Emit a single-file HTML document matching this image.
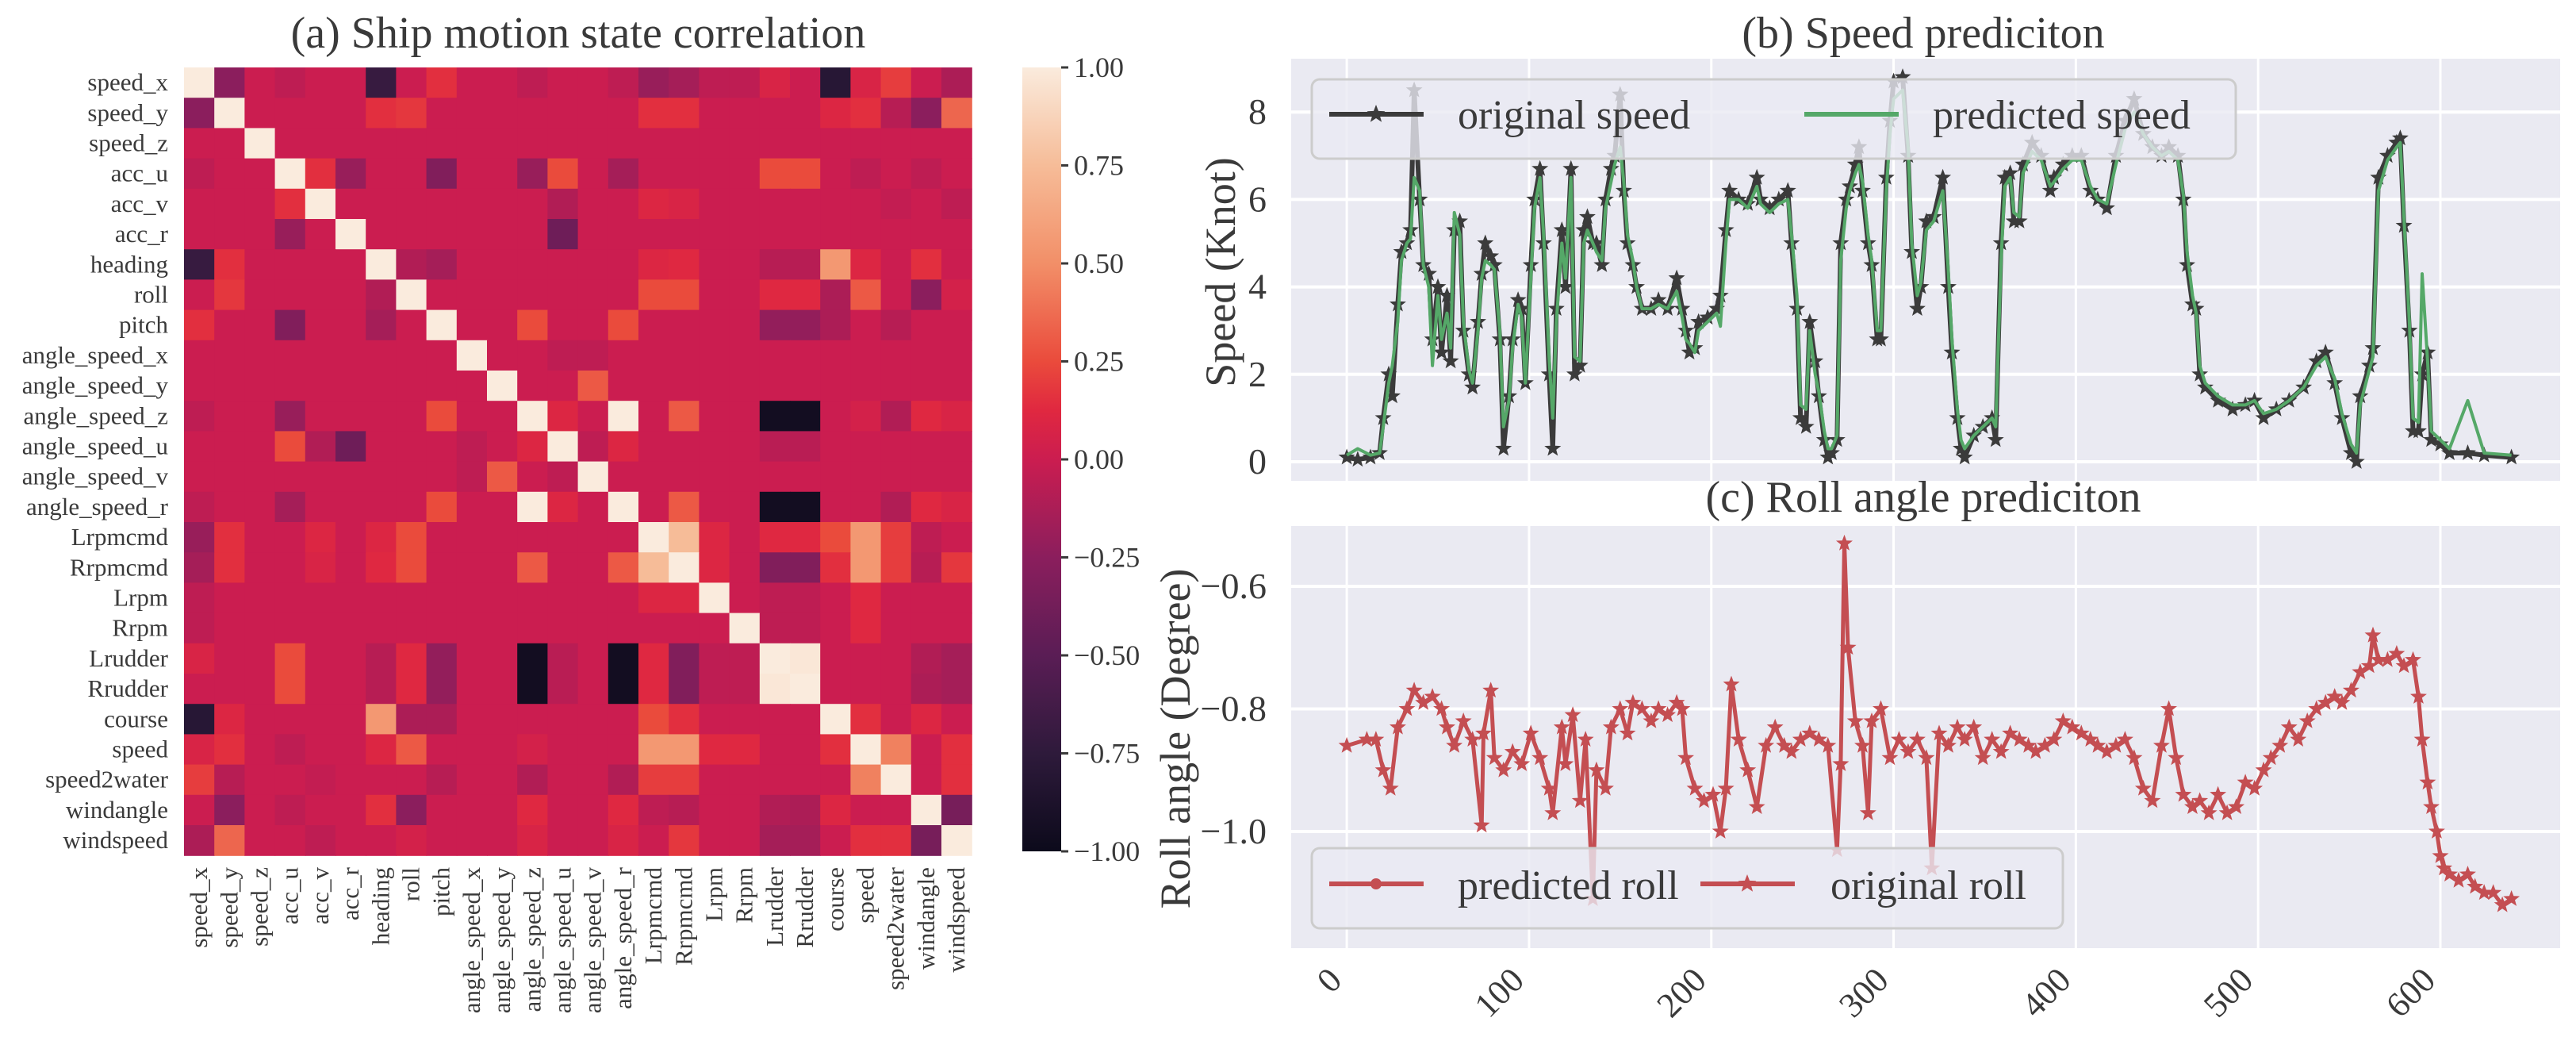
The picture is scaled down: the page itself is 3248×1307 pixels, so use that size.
<!DOCTYPE html>
<html><head><meta charset="utf-8">
<style>
html,body{margin:0;padding:0;background:#fff;}
svg{display:block;font-family:"Liberation Serif",serif;}
</style></head>
<body>
<svg id="fig" xmlns="http://www.w3.org/2000/svg" width="3248" height="1307" viewBox="0 0 3248 1307">
<g id="heat"></g>
<g id="cbar"></g>
<g id="speed"></g>
<g id="roll"></g>
</svg>
<script>
// ---------------- data ----------------
const varLabels = ["speed_x","speed_y","speed_z","acc_u","acc_v","acc_r","heading","roll","pitch","angle_speed_x","angle_speed_y","angle_speed_z","angle_speed_u","angle_speed_v","angle_speed_r","Lrpmcmd","Rrpmcmd","Lrpm","Rrpm","Lrudder","Rrudder","course","speed","speed2water","windangle","windspeed"];
const corrPairs = [
[0,1,-0.25],[0,3,-0.05],[0,6,-0.7],[0,8,0.15],[0,11,-0.05],[0,14,-0.05],[0,15,-0.2],[0,16,-0.15],[0,17,-0.05],[0,18,-0.05],[0,19,0.08],[0,21,-0.8],[0,22,0.08],[0,23,0.2],[0,25,-0.12],
[1,6,0.15],[1,7,0.18],[1,15,0.15],[1,16,0.15],[1,21,0.1],[1,22,0.15],[1,23,-0.08],[1,24,-0.25],[1,25,0.35],
[3,4,0.15],[3,5,-0.2],[3,8,-0.3],[3,11,-0.2],[3,12,0.25],[3,14,-0.15],[3,19,0.25],[3,20,0.25],[3,22,-0.05],[3,24,-0.05],
[4,12,-0.1],[4,15,0.1],[4,16,0.08],[4,23,-0.03],[4,25,-0.05],
[5,12,-0.4],
[6,7,-0.1],[6,8,-0.15],[6,15,0.1],[6,16,0.12],[6,19,-0.08],[6,20,-0.08],[6,21,0.55],[6,22,0.1],[6,24,0.15],
[7,15,0.25],[7,16,0.25],[7,19,0.12],[7,20,0.12],[7,21,-0.12],[7,22,0.3],[7,24,-0.25],[7,25,0.05],
[8,11,0.25],[8,14,0.25],[8,19,-0.22],[8,20,-0.22],[8,21,-0.12],[8,23,-0.08],
[9,12,-0.05],[9,13,-0.05],
[10,13,0.3],
[11,12,0.1],[11,14,1.0],[11,16,0.3],[11,19,-0.95],[11,20,-0.95],[11,22,0.05],[11,23,-0.1],[11,24,0.12],[11,25,0.08],
[12,13,-0.05],[12,14,0.1],[12,19,-0.07],[12,20,-0.07],
[14,16,0.3],[14,19,-0.95],[14,20,-0.95],[14,23,-0.1],[14,24,0.12],[14,25,0.08],
[15,16,0.75],[15,17,0.1],[15,19,0.12],[15,20,0.12],[15,21,0.25],[15,22,0.55],[15,23,0.2],[15,24,-0.05],
[16,17,0.1],[16,19,-0.3],[16,20,-0.3],[16,21,0.15],[16,22,0.55],[16,23,0.2],[16,24,-0.08],[16,25,0.18],
[17,19,-0.05],[17,20,-0.05],[17,22,0.12],
[18,19,-0.05],[18,20,-0.05],[18,22,0.12],
[19,20,0.98],[19,24,-0.1],[19,25,-0.15],[20,24,-0.12],[20,25,-0.15],
[21,22,0.15],[21,24,0.1],
[22,23,0.45],[22,25,0.15],
[23,25,0.15],
[24,25,-0.35]
];
const cbarTicks = [1,0.75,0.5,0.25,0,-0.25,-0.5,-0.75,-1];
const cbarTickLabels = ["1.00","0.75","0.50","0.25","0.00","\u22120.25","\u22120.50","\u22120.75","\u22121.00"];

const speedIdx = [0,6,13,18,20,23,25,28,30,33,35,37,40,42,45,47,50,52,55,57,59,62,64,67,69,72,74,76,79,81,84,86,89,91,94,96,98,101,103,106,108,111,113,115,118,120,123,125,128,130,132,135,137,140,142,145,147,150,152,154,157,159,162,167,171,176,181,184,186,188,191,193,198,203,205,208,210,215,220,225,227,232,237,242,244,247,249,252,254,257,259,262,264,266,269,271,274,276,279,281,283,286,288,291,293,296,298,300,305,308,310,313,315,318,322,327,330,332,335,337,339,344,349,354,356,359,361,364,366,369,371,376,381,386,388,393,398,403,408,412,417,422,427,432,437,442,447,451,456,459,461,464,466,468,471,478,486,493,498,503,510,517,525,532,537,542,546,551,554,556,561,563,566,571,576,578,580,583,585,588,590,593,595,600,605,615,624,639];
const speedOrig = [0.1,0.05,0.1,0.2,1.0,2.0,1.5,3.6,4.8,5.0,5.3,8.5,6.0,4.5,4.3,2.8,4.0,2.5,3.8,2.3,5.3,5.5,3.0,2.0,1.7,3.2,4.3,5.0,4.7,4.5,2.8,0.3,1.5,2.8,3.7,3.5,1.8,4.5,6.0,6.7,5.0,2.0,0.3,3.5,5.3,4.0,6.7,2.0,2.2,5.3,5.6,5.0,5.0,4.5,6.0,6.7,7.0,8.4,6.2,5.0,4.5,4.0,3.5,3.5,3.7,3.5,4.2,3.5,3.0,2.5,2.6,3.2,3.3,3.5,3.8,5.3,6.2,6.0,5.9,6.5,6.0,5.8,6.0,6.2,5.0,3.5,1.0,0.8,3.2,2.3,1.5,0.5,0.1,0.2,0.5,5.0,6.0,6.3,6.8,7.2,6.2,5.0,4.5,2.8,2.8,6.5,7.8,8.7,8.8,7.0,4.8,3.5,4.0,5.5,5.6,6.5,4.0,2.5,1.0,0.3,0.1,0.6,0.8,1.0,0.5,5.0,6.5,6.6,5.5,5.5,6.8,7.3,7.0,6.2,6.5,6.8,7.0,7.0,6.2,6.0,5.8,7.0,7.8,8.3,7.5,7.2,7.0,7.2,7.0,6.0,4.5,3.6,3.5,2.0,1.7,1.4,1.2,1.3,1.4,1.0,1.2,1.4,1.7,2.3,2.5,1.8,1.0,0.2,0.0,1.5,2.2,2.6,6.5,7.0,7.3,7.4,5.4,3.0,0.7,0.7,2.0,2.5,0.5,0.4,0.2,0.2,0.15,0.1];
const speedPred = [0.15,0.3,0.15,0.2,0.8,1.8,2.2,3.2,4.6,5.0,5.1,6.5,6.2,4.5,4.0,2.2,3.8,2.8,3.4,2.6,5.7,5.2,3.2,2.1,1.8,3.0,4.2,4.6,4.5,4.4,3.0,0.8,1.4,2.6,3.6,3.3,1.8,4.2,5.8,6.5,5.2,2.4,1.0,3.2,5.0,4.2,6.5,2.4,2.3,5.0,5.3,5.0,4.8,4.6,5.8,6.4,6.8,7.2,6.4,5.2,4.6,4.0,3.5,3.5,3.6,3.5,3.9,3.3,2.8,2.7,2.5,3.0,3.2,3.4,3.1,5.0,6.0,6.0,5.8,6.3,5.9,5.7,5.9,6.0,5.2,3.8,1.3,1.2,3.0,2.0,1.6,0.7,0.3,0.3,0.6,4.6,5.8,6.2,6.6,6.8,6.4,5.2,4.6,3.0,3.0,6.2,7.5,8.3,8.5,7.2,5.0,3.8,4.1,5.3,5.5,6.2,4.4,2.8,1.2,0.5,0.3,0.6,0.8,1.0,0.8,4.6,6.3,6.5,5.7,5.6,6.6,7.1,6.9,6.3,6.4,6.7,6.9,6.9,6.3,6.0,5.9,6.8,7.6,8.0,7.5,7.2,7.0,7.1,6.9,6.1,4.8,3.8,3.4,2.2,1.8,1.5,1.3,1.3,1.4,1.1,1.2,1.4,1.7,2.2,2.4,1.9,1.1,0.4,0.2,1.3,2.1,2.4,6.2,6.9,7.2,7.3,5.6,3.2,1.0,0.9,4.3,2.3,0.7,0.5,0.3,1.4,0.2,0.15];

const rollIdx = [0,11,16,20,24,28,33,37,42,47,52,55,59,64,69,74,75,79,81,86,91,96,101,106,111,113,118,120,124,128,131,135,137,142,145,150,154,157,162,167,171,176,181,184,186,191,196,201,205,208,211,215,220,225,230,235,240,244,249,254,259,264,269,271,273,275,279,283,286,288,293,298,303,308,313,318,321,325,330,335,339,344,349,354,359,364,369,374,378,383,388,393,398,403,408,412,417,422,427,432,437,442,447,451,455,459,464,468,473,478,483,488,493,498,503,507,512,517,522,527,532,537,542,546,551,556,561,563,566,571,576,580,585,588,590,593,595,598,600,602,605,610,615,619,624,629,634,639];
const rollOrig = [-0.86,-0.85,-0.85,-0.9,-0.93,-0.83,-0.8,-0.77,-0.79,-0.78,-0.8,-0.83,-0.86,-0.82,-0.85,-0.99,-0.84,-0.77,-0.88,-0.9,-0.87,-0.89,-0.84,-0.88,-0.93,-0.97,-0.83,-0.89,-0.81,-0.95,-0.85,-1.11,-0.9,-0.93,-0.83,-0.8,-0.84,-0.79,-0.8,-0.82,-0.8,-0.81,-0.79,-0.8,-0.88,-0.93,-0.95,-0.94,-1.0,-0.93,-0.76,-0.85,-0.9,-0.96,-0.86,-0.83,-0.86,-0.87,-0.85,-0.84,-0.85,-0.86,-1.03,-0.89,-0.53,-0.7,-0.82,-0.86,-0.97,-0.82,-0.8,-0.88,-0.85,-0.87,-0.85,-0.88,-1.06,-0.84,-0.86,-0.83,-0.85,-0.83,-0.88,-0.85,-0.87,-0.84,-0.85,-0.86,-0.87,-0.86,-0.85,-0.82,-0.83,-0.84,-0.85,-0.86,-0.87,-0.86,-0.85,-0.88,-0.93,-0.95,-0.86,-0.8,-0.88,-0.94,-0.96,-0.95,-0.97,-0.94,-0.97,-0.96,-0.92,-0.93,-0.9,-0.88,-0.86,-0.83,-0.85,-0.82,-0.8,-0.79,-0.78,-0.79,-0.77,-0.74,-0.73,-0.68,-0.72,-0.72,-0.71,-0.73,-0.72,-0.78,-0.85,-0.92,-0.96,-1.0,-1.04,-1.06,-1.07,-1.08,-1.07,-1.09,-1.1,-1.1,-1.12,-1.11];

const xTicks = [0,100,200,300,400,500,600];
const speedTicks = [0,2,4,6,8];
const rollTicks = [-0.6,-0.8,-1.0];
const rollTickLabels = ["\u22120.6","\u22120.8","\u22121.0"];

// ---------------- helpers ----------------
const NS = "http://www.w3.org/2000/svg";
function mk(tag, attrs, parent){ const e=document.createElementNS(NS,tag); for(const k in attrs) e.setAttribute(k,attrs[k]); parent.appendChild(e); return e; }
const stops = [[-1,[12,10,27]],[-0.75,[46,26,59]],[-0.5,[90,29,85]],[-0.25,[139,30,93]],[0,[203,29,80]],[0.125,[224,40,64]],[0.25,[234,75,60]],[0.5,[242,143,104]],[0.75,[246,188,152]],[1,[250,235,221]]];
function cmap(v){ v=Math.max(-1,Math.min(1,v)); for(let i=0;i<stops.length-1;i++){ const a=stops[i],b=stops[i+1]; if(v<=b[0]){ const t=(v-a[0])/(b[0]-a[0]); const c=a[1].map((x,k)=>Math.round(x+(b[1][k]-x)*t)); return `rgb(${c[0]},${c[1]},${c[2]})`; } } return "rgb(250,235,221)"; }
function starPath(cx,cy,R){ let d=""; for(let k=0;k<10;k++){ const r=k%2?R*0.42:R; const a=-Math.PI/2+k*Math.PI/5; d+=(k?"L":"M")+(cx+r*Math.cos(a)).toFixed(1)+","+(cy+r*Math.sin(a)).toFixed(1);} return d+"Z"; }
const TXT="#3a3a3a";

// ---------------- heatmap ----------------
const heat=document.getElementById('heat');
const n=varLabels.length;
const hmX=232, hmY=85, cell=38.2;
const M=[]; for(let i=0;i<n;i++){ M.push(new Array(n).fill(0)); M[i][i]=1; }
corrPairs.forEach(p=>{ M[p[0]][p[1]]=p[2]; M[p[1]][p[0]]=p[2]; });
for(let i=0;i<n;i++) for(let j=0;j<n;j++){
  const r=mk('rect',{x:(hmX+j*cell).toFixed(2),y:(hmY+i*cell).toFixed(2),width:(cell+0.6).toFixed(2),height:(cell+0.6).toFixed(2),fill:cmap(M[i][j])},heat);
  
  
}
varLabels.forEach((lab,i)=>{
  const t=mk('text',{x:212,y:(hmY+i*cell+cell/2+10).toFixed(1),'text-anchor':'end','font-size':31,fill:TXT},heat);
  t.textContent=lab;
  
  
  const cx=hmX+i*cell+cell/2+10;
  const t2=mk('text',{x:0,y:0,'text-anchor':'end','font-size':31,fill:TXT,transform:`translate(${cx.toFixed(1)},1093) rotate(-90)`},heat);
  t2.textContent=lab;
  
  
});
const ht=mk('text',{x:729,y:60,'text-anchor':'middle','font-size':56,fill:TXT},heat);
ht.textContent="(a) Ship motion state correlation";



// ---------------- colorbar ----------------
const cb=document.getElementById('cbar');
const cbX=1289, cbW=49, cbT=85, cbB=1073;
const defs=mk('defs',{},cb);
const lg=mk('linearGradient',{id:'cg',x1:0,y1:1,x2:0,y2:0},defs);
stops.forEach(s=>{ mk('stop',{offset:((s[0]+1)/2).toFixed(4),'stop-color':cmap(s[0])},lg); });
const cbr=mk('rect',{x:cbX,y:cbT,width:cbW,height:cbB-cbT,fill:'url(#cg)'},cb);


cbarTicks.forEach((v,i)=>{
  const y=cbB-(v+1)/2*(cbB-cbT);
  mk('line',{x1:cbX+cbW,x2:cbX+cbW+9,y1:y,y2:y,stroke:TXT,'stroke-width':3},cb);
  const t=mk('text',{x:cbX+cbW+16,y:y+12,'font-size':36,fill:TXT},cb);
  t.textContent=cbarTickLabels[i];
  
  
});

// ---------------- line charts ----------------
const axL=1628, axR=3228;
const xMin=-30.5, xMax=665.7;
const X=v=>axL+(v-xMin)/(xMax-xMin)*(axR-axL);
function axesBox(g,top,bot,ticks,Y,labels,ylabel,ylx,yly,title,ty,showX){
  const bg=mk('rect',{x:axL,y:top,width:axR-axL,height:bot-top,fill:'#eaeaf2'},g);
  
  
  xTicks.forEach(v=>{ mk('line',{x1:X(v),x2:X(v),y1:top,y2:bot,stroke:'#fff','stroke-width':3},g); });
  ticks.forEach((v,i)=>{
    mk('line',{x1:axL,x2:axR,y1:Y(v),y2:Y(v),stroke:'#fff','stroke-width':4},g);
    const t=mk('text',{x:1597,y:Y(v)+15,'text-anchor':'end','font-size':46,fill:TXT},g);
    t.textContent=labels[i];
    
    
  });
  if(showX) xTicks.forEach(v=>{
    const t=mk('text',{x:0,y:0,'text-anchor':'end','font-size':44,fill:TXT,transform:`translate(${X(v)-4},1238) rotate(-45)`},g);
    t.textContent=String(v);
    
    
  });
  const yl=mk('text',{x:0,y:0,'text-anchor':'middle','font-size':54,fill:TXT,transform:`translate(${ylx},${yly}) rotate(-90)`},g);
  yl.textContent=ylabel;
  
  
  const tt=mk('text',{x:2425,y:ty,'text-anchor':'middle','font-size':56,fill:TXT},g);
  tt.textContent=title;
  
  
}

// speed
const sg=document.getElementById('speed');
const sTop=74, sBot=606;
const SY=v=>582-v*55.1;
axesBox(sg,sTop,sBot,speedTicks,SY,speedTicks.map(String),"Speed (Knot)",1557,343,"(b) Speed prediciton",60,false);
let d=""; speedIdx.forEach((x,i)=>{ d+=(i?"L":"M")+X(x).toFixed(1)+","+SY(speedOrig[i]).toFixed(1); });
const so=mk('path',{d:d,fill:'none',stroke:'#3b3b3b','stroke-width':6,'stroke-linejoin':'round'},sg);


let sd=""; speedIdx.forEach((x,i)=>{ sd+=starPath(X(x),SY(speedOrig[i]),11); });
const ss=mk('path',{d:sd,fill:'#3b3b3b'},sg);


let pd=""; speedIdx.forEach((x,i)=>{ pd+=(i?"L":"M")+X(x).toFixed(1)+","+SY(speedPred[i]).toFixed(1); });
const sp=mk('path',{d:pd,fill:'none',stroke:'#55a868','stroke-width':4,'stroke-linejoin':'round'},sg);


// legend
const sl=mk('g',{},sg);  
mk('rect',{x:1654,y:100,width:1165,height:100,rx:10,fill:'rgba(234,234,242,0.8)',stroke:'#cccccc','stroke-width':3},sl);
mk('line',{x1:1676,x2:1795,y1:144,y2:144,stroke:'#3b3b3b','stroke-width':6},sl);
mk('path',{d:starPath(1735,144,12),fill:'#3b3b3b'},sl);
const sl1=mk('text',{x:1838,y:162,'font-size':52,fill:TXT},sl); sl1.textContent="original speed";
 
mk('line',{x1:2275,x2:2394,y1:144,y2:144,stroke:'#55a868','stroke-width':6},sl);
const sl2=mk('text',{x:2437,y:162,'font-size':52,fill:TXT},sl); sl2.textContent="predicted speed";
 

// roll
const rg=document.getElementById('roll');
const rTop=663, rBot=1195;
const RY=v=>739+(v+0.6)/(-0.2)*154.5;
axesBox(rg,rTop,rBot,rollTicks,RY,rollTickLabels,"Roll angle (Degree)",1500,931,"(c) Roll angle prediciton",645,true);
let rd=""; rollIdx.forEach((x,i)=>{ rd+=(i?"L":"M")+X(x).toFixed(1)+","+RY(rollOrig[i]).toFixed(1); });
const rl=mk('path',{d:rd,fill:'none',stroke:'#c44e52','stroke-width':5,'stroke-linejoin':'round'},rg);


let rs=""; rollIdx.forEach((x,i)=>{ rs+=starPath(X(x),RY(rollOrig[i]),11); });
const rm=mk('path',{d:rs,fill:'#c44e52'},rg);


const rlg=mk('g',{},rg);  
mk('rect',{x:1654,y:1069,width:947,height:101,rx:10,fill:'rgba(234,234,242,0.8)',stroke:'#cccccc','stroke-width':3},rlg);
mk('line',{x1:1676,x2:1795,y1:1114,y2:1114,stroke:'#c44e52','stroke-width':6},rlg);
mk('circle',{cx:1735,cy:1114,r:7,fill:'#c44e52'},rlg);
const rl1=mk('text',{x:1838,y:1133,'font-size':52,fill:TXT},rlg); rl1.textContent="predicted roll";
 
mk('line',{x1:2144,x2:2263,y1:1114,y2:1114,stroke:'#c44e52','stroke-width':6},rlg);
mk('path',{d:starPath(2203,1114,12),fill:'#c44e52'},rlg);
const rl2=mk('text',{x:2308,y:1133,'font-size':52,fill:TXT},rlg); rl2.textContent="original roll";
 
</script>
</body></html>
